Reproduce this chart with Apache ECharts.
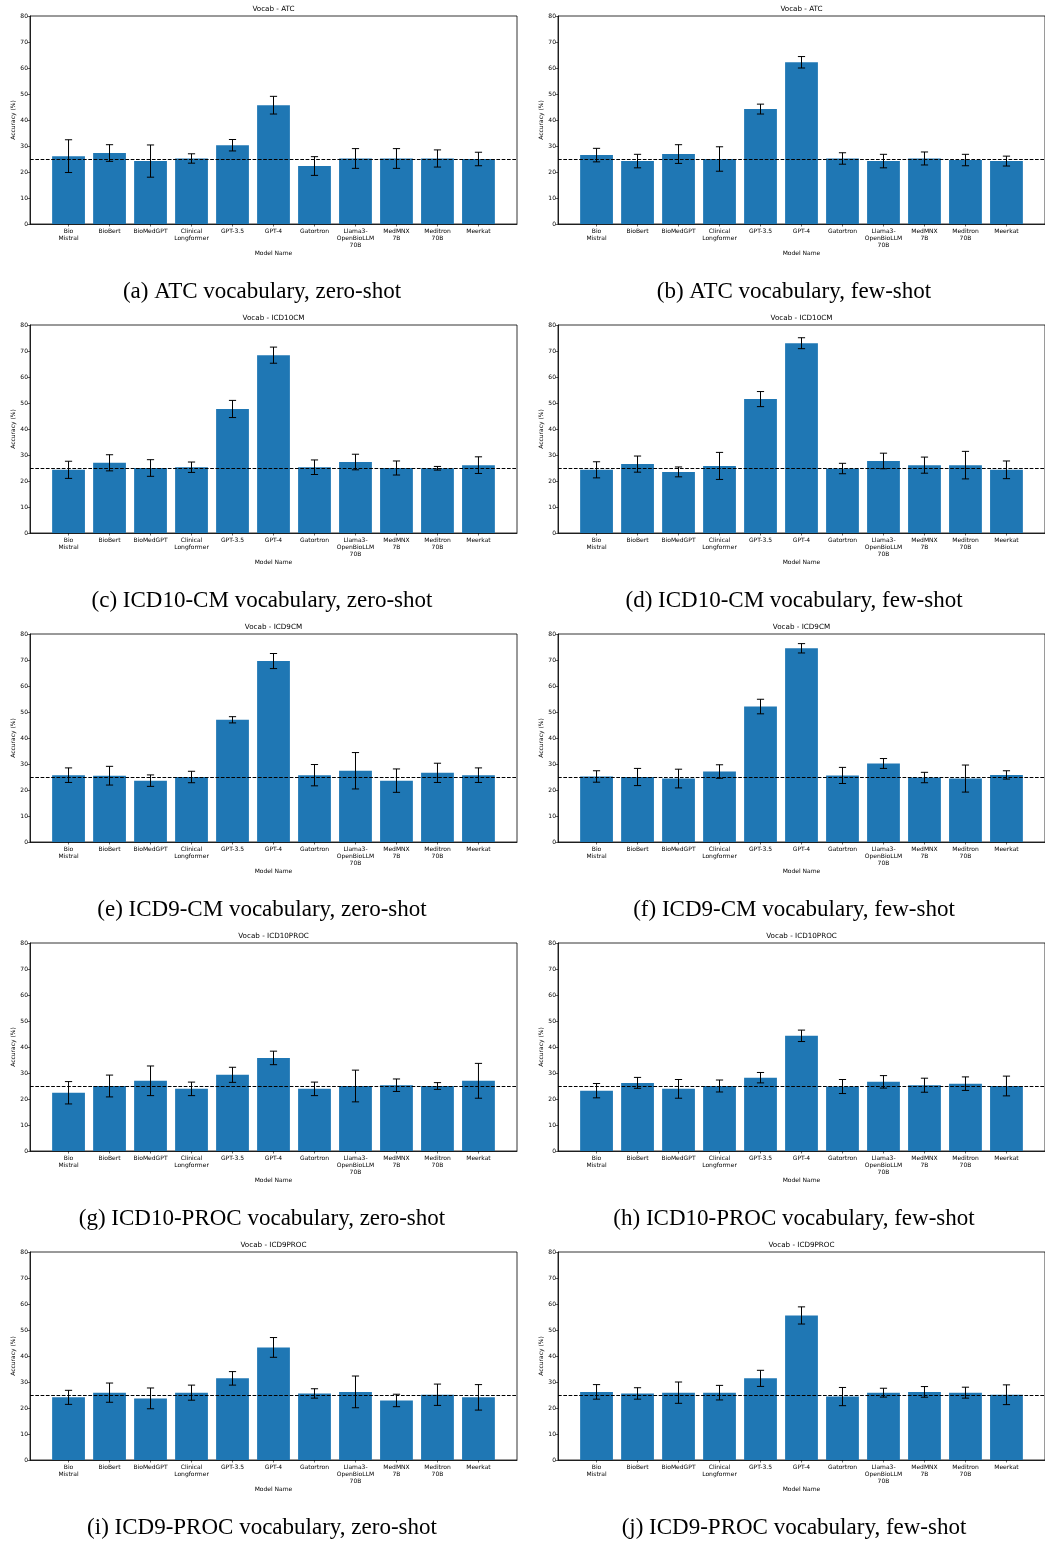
<!DOCTYPE html>
<html><head><meta charset="utf-8">
<script src="https://cdn.jsdelivr.net/npm/echarts@6/dist/echarts.min.js"></script>
<style>html,body{margin:0;padding:0;background:#fff}#c{width:1045px;height:1543px}</style>
</head><body><div id="c"></div>
<script>
// ---------- data ----------
const models = ['Bio\nMistral','BioBert','BioMedGPT','Clinical\nLongformer','GPT-3.5','GPT-4','Gatortron','Llama3-\nOpenBioLLM\n70B','MedMNX\n7B','Meditron\n70B','Meerkat'];
const yTicks = [0,10,20,30,40,50,60,70,80];
const chanceLevel = 25;

const atcZeroMean   = [26.1,27.3,24.2,25.2,30.3,45.7,22.3,25.2,25.2,25.2,25.0];
const atcZeroErr    = [6.3,3.2,6.2,1.8,2.2,3.4,3.6,3.8,3.8,3.3,2.6];
const atcFewMean    = [26.5,24.2,26.9,25.0,44.2,62.2,25.2,24.2,25.2,24.6,24.2];
const atcFewErr     = [2.6,2.6,3.6,4.7,1.9,2.2,2.2,2.6,2.5,2.2,1.9];
const icd10cmZeroMean = [24.3,27.0,25.0,25.3,47.7,68.4,25.3,27.3,25.0,24.9,26.1];
const icd10cmZeroErr  = [3.3,3.1,3.2,2.0,3.3,3.1,2.8,3.0,2.7,0.7,3.2];
const icd10cmFewMean  = [24.3,26.5,23.5,25.8,51.5,73.0,24.8,27.7,26.1,26.1,24.3];
const icd10cmFewErr   = [3.1,3.1,1.9,5.2,2.9,2.1,2.0,3.0,3.1,5.3,3.4];
const icd9cmZeroMean  = [25.7,25.5,23.6,25.0,47.0,69.6,25.7,27.4,23.6,26.6,25.7];
const icd9cmZeroErr   = [2.8,3.6,2.2,2.2,1.2,2.9,4.1,7.0,4.5,3.7,2.8];
const icd9cmFewMean   = [25.2,25.0,24.4,27.1,52.1,74.5,25.6,30.2,24.8,24.4,25.8];
const icd9cmFewErr    = [2.2,3.3,3.6,2.6,2.8,1.8,3.1,1.9,2.0,5.2,1.6];
const icd10procZeroMean = [22.4,25.0,27.0,23.9,29.3,35.8,23.9,25.0,25.3,25.0,27.0];
const icd10procZeroErr  = [4.3,4.2,5.7,2.6,2.9,2.6,2.6,6.1,2.4,1.3,6.7];
const icd10procFewMean  = [23.2,26.2,23.9,25.0,28.2,44.3,24.8,26.6,25.3,25.9,25.0];
const icd10procFewErr   = [2.75,2.1,3.6,2.3,2.0,2.2,2.7,2.4,2.7,2.6,3.8];
const icd9procZeroMean  = [24.1,25.9,23.7,25.9,31.4,43.3,25.6,26.2,22.9,25.1,24.1];
const icd9procZeroErr   = [2.7,3.7,4.0,2.9,2.6,3.8,1.8,6.1,2.4,4.1,4.9];
const icd9procFewMean   = [26.2,25.6,25.9,25.9,31.4,55.6,24.4,25.9,26.2,25.9,25.1];
const icd9procFewErr    = [2.8,2.2,4.1,2.8,3.1,3.3,3.5,1.7,2.05,2.1,3.8];

const panelTitles = ['Vocab - ATC','Vocab - ATC','Vocab - ICD10CM','Vocab - ICD10CM','Vocab - ICD9CM','Vocab - ICD9CM','Vocab - ICD10PROC','Vocab - ICD10PROC','Vocab - ICD9PROC','Vocab - ICD9PROC'];
const captions = ['(a) ATC vocabulary, zero-shot','(b) ATC vocabulary, few-shot','(c) ICD10-CM vocabulary, zero-shot','(d) ICD10-CM vocabulary, few-shot','(e) ICD9-CM vocabulary, zero-shot','(f) ICD9-CM vocabulary, few-shot','(g) ICD10-PROC vocabulary, zero-shot','(h) ICD10-PROC vocabulary, few-shot','(i) ICD9-PROC vocabulary, zero-shot','(j) ICD9-PROC vocabulary, few-shot'];
const means = [atcZeroMean,atcFewMean,icd10cmZeroMean,icd10cmFewMean,icd9cmZeroMean,icd9cmFewMean,icd10procZeroMean,icd10procFewMean,icd9procZeroMean,icd9procFewMean];
const errs  = [atcZeroErr,atcFewErr,icd10cmZeroErr,icd10cmFewErr,icd9cmZeroErr,icd9cmFewErr,icd10procZeroErr,icd10procFewErr,icd9procZeroErr,icd9procFewErr];

// ---------- layout ----------
const FONT = 'DejaVu Sans';
const colLeft = [30, 558];
const plotW = 487;
const rowTop = [16, 325, 634, 943, 1252];
const plotH = 208;
const captionX = [262, 794];
const BAR_W = 0.8;
const X_MIN = -0.94, X_MAX = 10.94;
const catIdx = models.map((_, i) => i);

const grids = [], xAxes = [], yAxes = [], series = [], titles = [], graphics = [];
for (let p = 0; p < 10; p++) {
  const col = p % 2, row = Math.floor(p / 2);
  grids.push({left: colLeft[col], top: rowTop[row], width: plotW, height: plotH, show: true, borderColor: '#000', borderWidth: 0.8, backgroundColor: 'transparent'});
  xAxes.push({
    type: 'value', gridIndex: p, min: X_MIN, max: X_MAX,
    name: 'Model Name', nameLocation: 'middle', nameGap: 26,
    nameTextStyle: {fontFamily: FONT, fontSize: 6, color: '#000'},
    axisLine: {show: true, onZero: false, lineStyle: {color: '#000', width: 0.8}},
    axisTick: {show: true, length: 2.5, lineStyle: {color: '#000', width: 0.6}, customValues: catIdx},
    axisLabel: {show: true, customValues: catIdx, formatter: v => models[Math.round(v)], fontFamily: FONT, fontSize: 6, lineHeight: 7, color: '#000', margin: 3.5},
    splitLine: {show: false}
  });
  yAxes.push({
    type: 'value', gridIndex: p, min: yTicks[0], max: yTicks[yTicks.length - 1], interval: yTicks[1] - yTicks[0],
    name: 'Accuracy (%)', nameLocation: 'middle', nameGap: 13,
    nameTextStyle: {fontFamily: FONT, fontSize: 6, color: '#000'},
    axisLine: {show: true, onZero: false, lineStyle: {color: '#000', width: 0.8}},
    axisTick: {show: true, length: 2.5, lineStyle: {color: '#000', width: 0.6}},
    axisLabel: {fontFamily: FONT, fontSize: 6, color: '#000', margin: 2},
    splitLine: {show: false}
  });
  titles.push({
    text: panelTitles[p], left: colLeft[col] + plotW / 2, top: rowTop[row] - 10.5, textAlign: 'center',
    textStyle: {fontFamily: FONT, fontSize: 7.2, fontWeight: 'normal', color: '#000'}, padding: 0
  });
  graphics.push({
    type: 'text', x: captionX[col], y: rowTop[row] + 276,
    style: {text: captions[p], font: '23px "Liberation Serif"', fill: '#000', textAlign: 'center', textVerticalAlign: 'middle'}
  });
  series.push({
    type: 'custom', xAxisIndex: p, yAxisIndex: p,
    data: means[p].map((v, i) => [i, v]),
    renderItem: (params, api) => {
      const x = api.value(0), y = api.value(1);
      const a = api.coord([x - BAR_W / 2, y]);
      const b = api.coord([x + BAR_W / 2, 0]);
      return {type: 'rect', shape: {x: a[0], y: a[1], width: b[0] - a[0], height: b[1] - a[1]}, style: {fill: '#1f77b4'}};
    },
    markLine: {
      silent: true, symbol: 'none', label: {show: false}, z: 5,
      lineStyle: {color: '#000', width: 1, type: [3.7, 1.6]},
      data: [{yAxis: chanceLevel}]
    },
    z: 2
  });
  series.push({
    type: 'custom', xAxisIndex: p, yAxisIndex: p, z: 4,
    data: means[p].map((v, i) => [i, v, errs[p][i]]),
    renderItem: (params, api) => {
      const x = api.value(0), y = api.value(1), e = api.value(2);
      const top = api.coord([x, y + e]);
      const bot = api.coord([x, y - e]);
      const cap = 3.6;
      const st = {stroke: '#000', lineWidth: 1};
      return {type: 'group', children: [
        {type: 'line', shape: {x1: top[0], y1: top[1], x2: bot[0], y2: bot[1]}, style: st},
        {type: 'line', shape: {x1: top[0] - cap, y1: top[1], x2: top[0] + cap, y2: top[1]}, style: st},
        {type: 'line', shape: {x1: bot[0] - cap, y1: bot[1], x2: bot[0] + cap, y2: bot[1]}, style: st}
      ]};
    }
  });
}

const chart = echarts.init(document.getElementById('c'), null, {renderer: 'canvas'});
chart.setOption({
  animation: false,
  backgroundColor: '#fff',
  title: titles,
  grid: grids,
  xAxis: xAxes,
  yAxis: yAxes,
  series: series,
  graphic: graphics
});
</script></body></html>
